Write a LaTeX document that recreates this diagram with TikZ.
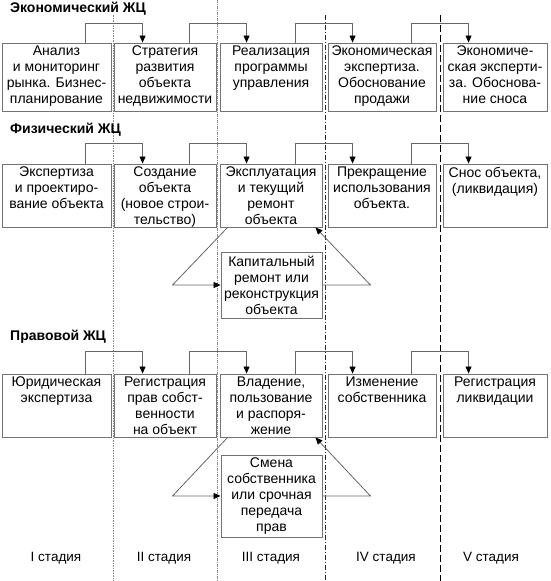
\documentclass[tikz,border=0pt]{standalone}
\usepackage{fontspec}
\setmainfont{Liberation Sans}
\usetikzlibrary{arrows.meta,calc}
\begin{document}
\begin{tikzpicture}[x=1pt,y=-1pt,
  box/.style={draw=black!55, line width=0.9pt, inner sep=0pt, rectangle},
  txt/.style={font=\fontsize{14}{16}\selectfont, align=center, inner sep=0pt, anchor=north, yshift=-3pt},
  ctxt/.style={font=\fontsize{14}{16}\selectfont, align=center},
  ttl/.style={font=\bfseries\fontsize{14}{16}\selectfont, anchor=west, inner sep=0pt},
  stg/.style={font=\fontsize{13.5}{16}\selectfont, inner sep=0pt},
  conn/.style={draw=black!60, line width=0.8pt, -{Triangle[length=7pt,width=6pt,color=black]}},
  divA/.style={draw=black!45, line width=0.7pt, dash pattern=on 1.5pt off 1pt},
  divB/.style={draw=black!45, line width=0.6pt, dash pattern=on 3pt off 1pt on 1pt off 1pt},
  divC/.style={draw=black!85, line width=0.7pt, dash pattern=on 5pt off 2pt on 1pt off 2pt},
  divD/.style={draw=black, line width=0.9pt, dash pattern=on 7pt off 3pt},
  rowE/.style={minimum height=68pt},
  rowP/.style={minimum height=63pt},
  rowL/.style={minimum height=63pt}
]
\useasboundingbox (0,0) rectangle (550,581);

% stage dividers
\draw[divA] (113,15) -- (113,581);
\draw[divB] (217,0) -- (217,581);
\draw[divC] (325,15) -- (325,581);
\draw[divD] (440,15) -- (440,581);

% titles
\node[ttl] (t1) at (10,9) {Экономический ЖЦ};
\node[ttl] (t2) at (10,130) {Физический ЖЦ};
\node[ttl] (t3) at (10,337) {Правовой ЖЦ};

% economic row
\node[box,rowE,minimum width=109pt,label={[txt]north:{Анализ\\и мониторинг\\рынка. Бизнес-\\планирование}}] (e1) at (56.5,77) {};
\node[box,rowE,minimum width=102pt,label={[txt]north:{Стратегия\\развития\\объекта\\недвижимости}}] (e2) at (165,77) {};
\node[box,rowE,minimum width=102pt,label={[txt]north:{Реализация\\программы\\управления}}] (e3) at (271,77) {};
\node[box,rowE,minimum width=108pt,label={[txt]north:{Экономическая\\экспертиза.\\Обоснование\\продажи}}] (e4) at (382,77) {};
\node[box,rowE,minimum width=104pt,label={[txt]north:{Экономиче-\\ская эксперти-\\за. Обоснова-\\ние сноса}}] (e5) at (495,77) {};

% physical row
\node[box,rowP,minimum width=109pt,label={[txt]north:{Экспертиза\\и проектиро-\\вание объекта}}] (p1) at (56.5,195.5) {};
\node[box,rowP,minimum width=102pt,label={[txt]north:{Создание\\объекта\\(новое строи-\\тельство)}}] (p2) at (165,195.5) {};
\node[box,rowP,minimum width=102pt,label={[txt]north:{Эксплуатация\\и текущий\\ремонт\\объекта}}] (p3) at (271,195.5) {};
\node[box,rowP,minimum width=108pt,label={[txt]north:{Прекращение\\использования\\объекта.}}] (p4) at (382,195.5) {};
\node[box,rowP,minimum width=104pt,label={[txt]north:{Снос объекта,\\(ликвидация)}}] (p5) at (495,195.5) {};
\node[box,ctxt,minimum width=101pt,minimum height=66pt] (cap) at (271.5,285) {Капитальный\\ремонт или\\реконструкция\\объекта};

% legal row
\node[box,rowL,minimum width=109pt,label={[txt]north:{Юридическая\\экспертиза}}] (l1) at (56.5,405.5) {};
\node[box,rowL,minimum width=102pt,label={[txt]north:{Регистрация\\прав собст-\\венности\\на объект}}] (l2) at (165,405.5) {};
\node[box,rowL,minimum width=102pt,label={[txt]north:{Владение,\\пользование\\и распоря-\\жение}}] (l3) at (271,405.5) {};
\node[box,rowL,minimum width=108pt,label={[txt]north:{Изменение\\собственника}}] (l4) at (382,405.5) {};
\node[box,rowL,minimum width=104pt,label={[txt]north:{Регистрация\\ликвидации}}] (l5) at (495,405.5) {};
\node[box,ctxt,minimum width=101pt,minimum height=82pt] (sm) at (271.5,496) {Смена\\собственника\\или срочная\\передача\\прав};

% stage connectors
\foreach \r/\h in {e/19,p/20,l/22}{
  \draw[conn] ([xshift=84pt]\r1.north west) -- ++(0,-\h) -| ([xshift=29pt]\r2.north west);
  \draw[conn] ([xshift=76pt]\r2.north west) -- ++(0,-\h) -| ([xshift=27pt]\r3.north west);
  \draw[conn] ([xshift=76pt]\r3.north west) -- ++(0,-\h) -| ([xshift=25pt]\r4.north west);
  \draw[conn] ([xshift=84pt]\r4.north west) -- ++(0,-\h) -| ([xshift=26pt]\r5.north west);
}

% loops
\draw[conn] ([xshift=8pt]p3.south west) -- ($(cap.west)+(-48,0)$) -- (cap.west);
\draw[conn] (cap.east) -- ($(cap.east)+(48,0)$) -- ([xshift=-7pt]p3.south east);
\draw[conn] ([xshift=8pt]l3.south west) -- ($(sm.west)+(-48,0)$) -- (sm.west);
\draw[conn] (sm.east) -- ($(sm.east)+(48,0)$) -- ([xshift=-7pt]l3.south east);

% stages
\node[stg] (s1) at (56,558) {I стадия};
\node[stg] (s2) at (164,558) {II стадия};
\node[stg] (s3) at (271,558) {III стадия};
\node[stg] (s4) at (386,558) {IV стадия};
\node[stg] (s5) at (491,558) {V стадия};
\end{tikzpicture}
\end{document}
